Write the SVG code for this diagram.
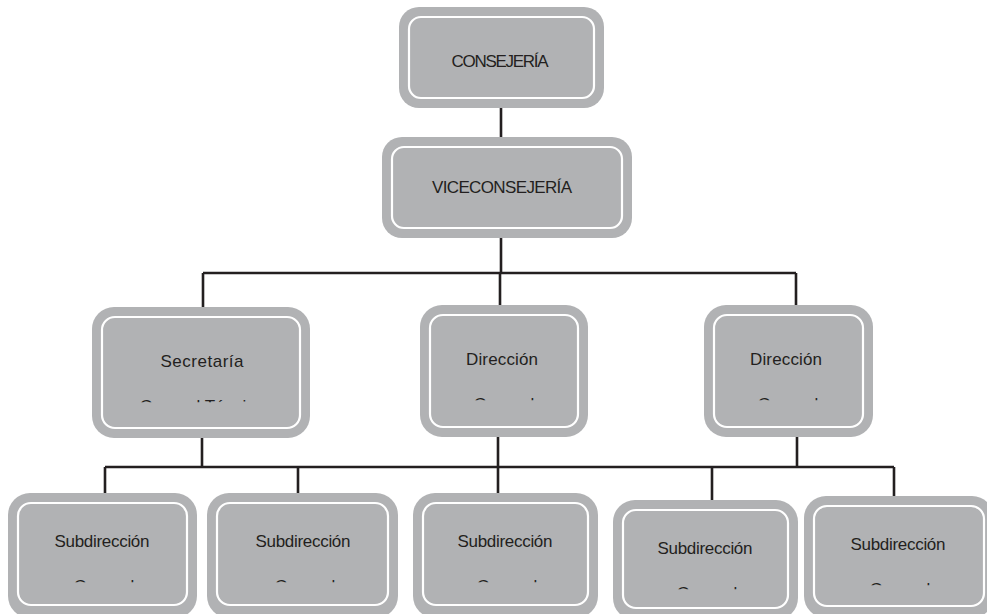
<svg xmlns="http://www.w3.org/2000/svg" width="987" height="614" viewBox="0 0 987 614">
<defs>
<style>
.box{fill:#b1b2b4}
.ring{fill:none;stroke:#ffffff;stroke-width:2.2}
.lbl{font-family:"Liberation Sans",Arial,sans-serif;font-size:17px;fill:#231f20;text-anchor:middle}
.conn{stroke:#231f20;stroke-width:2.6;fill:none}
</style>
<clipPath id="topstrip" clipPathUnits="objectBoundingBox"><rect x="-0.1" y="0" width="1.2" height="0.30"/></clipPath>
</defs>
<rect width="987" height="614" fill="#ffffff"/>
<g id="connectors">
<path class="conn" d="M501 108V137M501 238V273M203 273H796M203 273V307M500 273V305M796 273V305M202 438V467M498 437V493M797 437V467M105 467H894M105 467V493M298 467V493M712 467V500M894 467V496"/>
</g>
<g id="consejeria">
<rect class="box" x="399" y="7" width="205" height="101" rx="20"/>
<rect class="ring" x="409" y="17" width="185" height="81" rx="12"/>
<text class="lbl" x="500" y="67" textLength="97">CONSEJERÍA</text>
</g>
<g id="viceconsejeria">
<rect class="box" x="382" y="137" width="250" height="101" rx="20"/>
<rect class="ring" x="392" y="147" width="230" height="81" rx="12"/>
<text class="lbl" x="502" y="193" textLength="140">VICECONSEJERÍA</text>
</g>
<g id="secretaria">
<rect class="box" x="92" y="307" width="218" height="131" rx="22"/>
<rect class="ring" x="102" y="317" width="198" height="111" rx="13"/>
<text class="lbl" x="202" y="367" textLength="83">Secretaría</text>
<text class="lbl" x="202" y="411.5" clip-path="url(#topstrip)">General Técnica</text>
</g>
<g id="direccion1">
<rect class="box" x="420" y="305" width="168" height="132" rx="22"/>
<rect class="ring" x="430" y="315" width="148" height="112" rx="13"/>
<text class="lbl" x="502" y="365" textLength="72">Dirección</text>
<text class="lbl" x="504" y="409.5" clip-path="url(#topstrip)">General</text>
</g>
<g id="direccion2">
<rect class="box" x="704" y="305" width="169" height="132" rx="22"/>
<rect class="ring" x="714" y="315" width="149" height="112" rx="13"/>
<text class="lbl" x="786" y="365" textLength="72">Dirección</text>
<text class="lbl" x="788" y="409.5" clip-path="url(#topstrip)">General</text>
</g>
<g id="subdireccion1">
<rect class="box" x="8" y="493" width="189" height="125" rx="22"/>
<rect class="ring" x="18" y="503" width="169" height="102" rx="13"/>
<text class="lbl" x="102" y="547" textLength="95">Subdirección</text>
<text class="lbl" x="104" y="591.5" clip-path="url(#topstrip)">General</text>
</g>
<g id="subdireccion2">
<rect class="box" x="207" y="493" width="191" height="125" rx="22"/>
<rect class="ring" x="217" y="503" width="171" height="102" rx="13"/>
<text class="lbl" x="303" y="547" textLength="95">Subdirección</text>
<text class="lbl" x="305" y="591.5" clip-path="url(#topstrip)">General</text>
</g>
<g id="subdireccion3">
<rect class="box" x="413" y="493" width="185" height="125" rx="22"/>
<rect class="ring" x="423" y="503" width="165" height="102" rx="13"/>
<text class="lbl" x="505" y="547" textLength="95">Subdirección</text>
<text class="lbl" x="507" y="591.5" clip-path="url(#topstrip)">General</text>
</g>
<g id="subdireccion4">
<rect class="box" x="613" y="500" width="185" height="120" rx="22"/>
<rect class="ring" x="623" y="510" width="165" height="98" rx="13"/>
<text class="lbl" x="705" y="554" textLength="95">Subdirección</text>
<text class="lbl" x="707" y="598.5" clip-path="url(#topstrip)">General</text>
</g>
<g id="subdireccion5">
<rect class="box" x="804" y="496" width="190" height="122" rx="22"/>
<rect class="ring" x="814" y="506" width="170" height="100" rx="13"/>
<text class="lbl" x="898" y="550" textLength="95">Subdirección</text>
<text class="lbl" x="900" y="594.5" clip-path="url(#topstrip)">General</text>
</g>
</svg>
